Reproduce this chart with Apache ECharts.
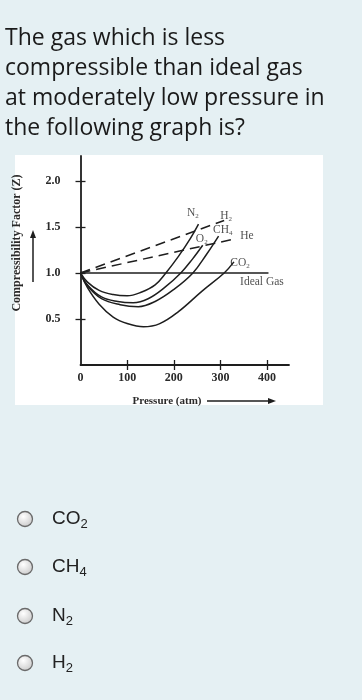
<!DOCTYPE html>
<html><head><meta charset="utf-8">
<script src="https://cdn.jsdelivr.net/npm/echarts@6/dist/echarts.min.js"></script>
<style>html,body{margin:0;padding:0;background:#e5f0f3}#c{width:362px;height:700px}</style>
</head><body><div id="c"></div>
<script>
// ---- text content ----
const questionLines = ['The gas which is less', 'compressible than ideal gas', 'at moderately low pressure in', 'the following graph is?'];
const answerOptions = ['CO2', 'CH4', 'N2', 'H2'];
const yAxisTitle = 'Compressibility Factor (Z)';
const xAxisTitle = 'Pressure (atm)';

// ---- axis ticks ----
const xLabelValues = [0, 100, 200, 300, 400];
const xTickValues = [100, 200, 300, 400];
const yTickValues = [0.5, 1.0, 1.5, 2.0];

// ---- series data: [pressure (atm), Z] ----
const n2 = [[0,1],[15,0.9],[40,0.81],[70,0.765],[100,0.752],[130,0.79],[160,0.87],[183,1.0],[210,1.18],[235,1.37],[253,1.53]];
const o2 = [[0,1],[15,0.87],[45,0.74],[80,0.69],[113,0.677],[145,0.72],[180,0.84],[215,1.0],[240,1.15],[262,1.3]];
const ch4 = [[0,1],[15,0.86],[45,0.72],[85,0.655],[124,0.634],[160,0.69],[200,0.82],[241,1.0],[270,1.2],[296,1.4]];
const co2 = [[0,1],[15,0.84],[40,0.66],[70,0.52],[100,0.45],[135,0.415],[170,0.45],[210,0.58],[260,0.8],[308,1.0],[329,1.12]];
const h2 = [[0,1],[308,1.57]];
const he = [[0,1],[331,1.37]];
const idealGas = [[0,1],[403,1]];

// ---- curve labels ----
const curveLabelNames = ['N2','H2','CH4','He','O2','CO2','Ideal Gas'];
const curveLabelP = [241, 312, 305, 357, 260, 342, 389];
const curveLabelZ = [1.65, 1.62, 1.47, 1.40, 1.37, 1.11, 0.90];

const ink = '#1e1e1e';
const serif = '"Liberation Serif", "DejaVu Serif", serif';

function richSub(name, b, s) {
  return name.replace(/([A-Za-z ]+)|(\d+)/g, (m, a, d) => a ? '{' + b + '|' + a + '}' : '{' + s + '|' + d + '}');
}

const chart = echarts.init(document.getElementById('c'), null, {renderer: 'canvas', width: 362, height: 700});

const graphics = [];
graphics.push({type: 'rect', z: -10, shape: {x: 15, y: 155, width: 308, height: 250}, style: {fill: '#ffffff'}});
questionLines.forEach((t, i) => {
  graphics.push({type: 'text', x: 5, y: 38 + i * 30, style: {text: t, font: '23px "Open Sans"', fill: '#1a1a1a', verticalAlign: 'middle'}});
});
const optY = [519, 567, 616, 663];
answerOptions.forEach((t, i) => {
  graphics.push({type: 'circle', shape: {cx: 25, cy: optY[i], r: 7.5},
    style: {stroke: '#6a6a6a', lineWidth: 1.3,
      fill: {type: 'radial', x: 0.4, y: 0.35, r: 0.75, colorStops: [{offset: 0, color: '#ffffff'}, {offset: 1, color: '#c4c4c4'}]}}});
  graphics.push({type: 'text', x: 52, y: optY[i], style: {
    text: richSub(t, 'b', 's'), verticalAlign: 'middle', fill: '#222',
    rich: {b: {fontFamily: '"Liberation Sans", Arial', fontSize: 19, lineHeight: 24, verticalAlign: 'middle', fill: '#222'},
           s: {fontFamily: '"Liberation Sans", Arial', fontSize: 13, lineHeight: 24, verticalAlign: 'bottom', fill: '#222'}}}});
});
// y-axis title and arrow
graphics.push({type: 'text', x: 17, y: 243, rotation: Math.PI / 2, style: {text: yAxisTitle, font: 'bold 12px ' + serif, fill: '#2a2a2a', align: 'center', verticalAlign: 'middle'}});
graphics.push({type: 'line', shape: {x1: 33, y1: 282, x2: 33, y2: 236}, style: {stroke: ink, lineWidth: 1.5}});
graphics.push({type: 'polygon', shape: {points: [[33, 230], [30, 238], [36, 238]]}, style: {fill: ink}});
// x-axis title and arrow
graphics.push({type: 'text', x: 167, y: 401, style: {text: xAxisTitle, font: 'bold 11px ' + serif, fill: '#2a2a2a', align: 'center', verticalAlign: 'middle'}});
graphics.push({type: 'line', shape: {x1: 207, y1: 401, x2: 270, y2: 401}, style: {stroke: ink, lineWidth: 1.3}});
graphics.push({type: 'polygon', shape: {points: [[276, 401], [268, 398], [268, 404]]}, style: {fill: ink}});

const axisLineStyle = {color: ink, width: 1.8};
const lineSeries = (data, dashed) => ({
  type: 'line', data: data, smooth: dashed ? false : 0.4, symbol: 'none', silent: true,
  lineStyle: {color: ink, width: 1.5, type: dashed ? [10, 6] : 'solid'}
});
const tickFont = {fontFamily: serif, fontSize: 12, fontWeight: 'bold', color: '#2a2a2a'};

chart.setOption({
  backgroundColor: '#e5f0f3',
  animation: false,
  graphic: graphics,
  grid: {left: 80.5, top: 156, width: 208.5, height: 209, outerBoundsMode: 'none', containLabel: false},
  xAxis: [
    {type: 'value', min: 0, max: 447, position: 'bottom',
      axisLine: {show: true, onZero: false, lineStyle: axisLineStyle},
      axisTick: {show: true, customValues: xTickValues, length: 5, lineStyle: {color: ink, width: 1.3}},
      axisLabel: Object.assign({customValues: xLabelValues, margin: 7}, tickFont),
      splitLine: {show: false}},
    {type: 'value', min: 0, max: 447, position: 'bottom',
      axisLine: {show: false},
      axisTick: {show: true, inside: true, customValues: xTickValues, length: 5, lineStyle: {color: ink, width: 1.3}},
      axisLabel: {show: false}, splitLine: {show: false}}
  ],
  yAxis: [
    {type: 'value', min: 0, max: 2.27, position: 'left',
      axisLine: {show: true, onZero: false, lineStyle: axisLineStyle},
      axisTick: {show: true, customValues: yTickValues, length: 5, lineStyle: {color: ink, width: 1.3}},
      axisLabel: Object.assign({customValues: yTickValues, margin: 20, formatter: v => v.toFixed(1)}, tickFont),
      splitLine: {show: false}},
    {type: 'value', min: 0, max: 2.27, position: 'left',
      axisLine: {show: false},
      axisTick: {show: true, inside: true, customValues: yTickValues, length: 5, lineStyle: {color: ink, width: 1.3}},
      axisLabel: {show: false}, splitLine: {show: false}}
  ],
  series: [
    lineSeries(idealGas, false),
    lineSeries(n2, false),
    lineSeries(o2, false),
    lineSeries(ch4, false),
    lineSeries(co2, false),
    lineSeries(h2, true),
    lineSeries(he, true),
    {type: 'scatter', symbolSize: 0, silent: true,
      data: curveLabelNames.map((n, i) => ({value: [curveLabelP[i], curveLabelZ[i]], name: n})),
      label: {show: true, position: 'inside', color: ink,
        formatter: p => richSub(p.name, 'b', 's'),
        rich: {b: {fontFamily: serif, fontSize: 11.5, lineHeight: 13, verticalAlign: 'middle', color: ink},
               s: {fontFamily: serif, fontSize: 7, lineHeight: 13, verticalAlign: 'bottom', color: ink}}}}
  ]
});
</script></body></html>
